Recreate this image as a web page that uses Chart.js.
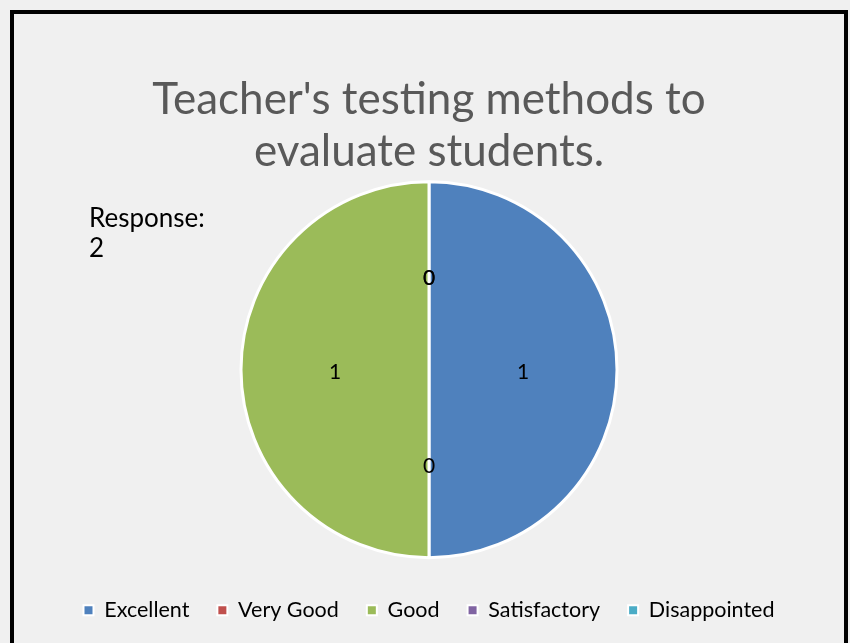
<!DOCTYPE html>
<html>
<head>
<meta charset="utf-8">
<script src="https://cdn.jsdelivr.net/npm/chart.js@4"></script>
<style>
  html, body { margin: 0; padding: 0; background: #f0f0f0; overflow: hidden; }
  #wrap { position: relative; width: 850px; height: 643px; }
  #frame {
    position: absolute; left: 10px; top: 10px;
    width: 830px; height: 700px;
    border: 4px solid #000;
  }
  canvas { position: absolute; left: 0; top: 0; }
</style>
</head>
<body>
<div id="wrap">
  <div id="frame"></div>
  <canvas id="pieChart" width="850" height="643"></canvas>
</div>
<script>
/* =========================
   DATA
========================= */
const categories = ["Excellent", "Very Good", "Good", "Satisfactory", "Disappointed"];
const responses = [1, 0, 1, 0, 0];
const colours = ["#4f81bd", "#c0504d", "#9bbb59", "#8064a2", "#4bacc6"];
const titleLines = ["Teacher's testing methods to", "evaluate students."];
const noteLines = ["Response:", "2"];

const FONT = "Lato, 'Open Sans', sans-serif";

/* =========================
   VALUE LABELS (inside slices)
========================= */
const valueLabels = {
  id: "valueLabels",
  afterDatasetsDraw(chart) {
    const ctx = chart.ctx;
    const meta = chart.getDatasetMeta(0);
    ctx.save();
    ctx.font = "21px " + FONT;
    ctx.fillStyle = "#000";
    ctx.textAlign = "center";
    ctx.textBaseline = "middle";
    meta.data.forEach((arc, i) => {
      const p = arc.tooltipPosition();
      ctx.fillText(String(responses[i]), p.x, p.y + 3);
    });
    ctx.restore();
  }
};

/* =========================
   "Response" note
========================= */
const responseNote = {
  id: "responseNote",
  afterDraw(chart) {
    const ctx = chart.ctx;
    ctx.save();
    ctx.font = "26px " + FONT;
    ctx.fillStyle = "#000";
    ctx.textAlign = "left";
    ctx.textBaseline = "middle";
    noteLines.forEach((t, i) => ctx.fillText(t, 89, 219 + i * 30));
    ctx.restore();
  }
};

/* =========================
   PIE CHART
========================= */
new Chart(document.getElementById("pieChart"), {
  type: "pie",
  data: {
    labels: categories,
    datasets: [{
      data: responses,
      backgroundColor: colours,
      borderColor: "#ffffff",
      borderWidth: 3
    }]
  },
  options: {
    responsive: false,
    animation: false,
    radius: 188,
    layout: {
      padding: { left: 8, right: 0, top: 0, bottom: 12 }
    },
    plugins: {
      title: {
        display: true,
        text: titleLines,
        color: "#595959",
        font: { family: FONT, size: 44, weight: "normal", lineHeight: 1.18 },
        padding: { top: 74, bottom: -10 }
      },
      legend: {
        position: "bottom",
        labels: {
          color: "#595959",
          font: { family: FONT, size: 21.5 },
          boxWidth: 10,
          boxHeight: 10,
          padding: 28,
          generateLabels(chart) {
            return categories.map((c, i) => ({
              text: c,
              fillStyle: colours[i],
              strokeStyle: "#ffffff",
              lineWidth: 2,
              hidden: false,
              index: i
            }));
          }
        }
      },
      tooltip: { enabled: false }
    }
  },
  plugins: [valueLabels, responseNote]
});
</script>
</body>
</html>
